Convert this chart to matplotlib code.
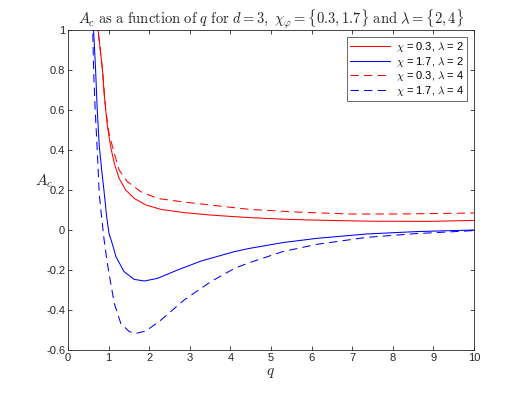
import numpy as np
import matplotlib
matplotlib.use("Agg")
import matplotlib.pyplot as plt
from matplotlib.ticker import FuncFormatter

plt.rcParams["mathtext.fontset"] = "cm"
plt.rcParams["axes.unicode_minus"] = False
plt.rcParams["font.family"] = ["Liberation Sans", "DejaVu Sans"]

# chi = 0.3, lambda = 2 (red solid)
q_r2 = [0.72, 0.74, 0.85, 0.89, 0.93, 0.97, 1.05, 1.14, 1.26, 1.42, 1.63, 1.92,
        2.29, 2.86, 3.5, 4.0, 4.47, 5.2, 5.95, 7.43, 8.9, 10]
a_r2 = [1.05, 1.0, 0.8, 0.68, 0.6, 0.52, 0.417, 0.333, 0.258, 0.2, 0.158, 0.125,
        0.103, 0.087, 0.075, 0.068, 0.062, 0.055, 0.05, 0.044, 0.043, 0.048]

# chi = 1.7, lambda = 2 (blue solid)
q_b2 = [0.62, 0.63, 0.68, 0.72, 0.77, 0.83, 0.89, 0.95, 1.01, 1.1, 1.18, 1.38,
        1.63, 1.88, 2.2, 2.7, 3.28, 4.1, 4.47, 5.29, 6.12, 7.35, 8.58, 10]
a_b2 = [1.05, 1.0, 0.8, 0.6, 0.42, 0.3, 0.19, 0.07, -0.017, -0.075, -0.133, -0.208,
        -0.247, -0.255, -0.242, -0.2, -0.155, -0.108, -0.092, -0.063, -0.042, -0.02,
        -0.008, 0.0]

# chi = 0.3, lambda = 4 (red dashed)
q_r4 = [0.72, 0.74, 0.85, 0.93, 1.01, 1.14, 1.26, 1.46, 1.79, 2.2, 2.78, 3.5,
        4.47, 5.7, 6.94, 8.17, 10]
a_r4 = [1.05, 1.0, 0.8, 0.6, 0.483, 0.383, 0.3, 0.242, 0.192, 0.158, 0.142, 0.125,
        0.103, 0.089, 0.08, 0.08, 0.085]

# chi = 1.7, lambda = 4 (blue dashed)
q_b4 = [0.60, 0.61, 0.63, 0.67, 0.72, 0.77, 0.83, 0.89, 0.95, 1.01, 1.14, 1.3,
        1.51, 1.67, 1.92, 2.29, 2.86, 3.52, 4.1, 4.47, 5.29, 6.12, 7.35, 8.58, 10]
a_b4 = [1.05, 1.0, 0.8, 0.6, 0.4, 0.18, 0.06, -0.05, -0.14, -0.217, -0.367, -0.467,
        -0.508, -0.517, -0.505, -0.45, -0.35, -0.258, -0.192, -0.163, -0.108, -0.072,
        -0.037, -0.018, -0.003]

labels = [r"$\chi$ = 0.3, $\lambda$ = 2", r"$\chi$ = 1.7, $\lambda$ = 2",
          r"$\chi$ = 0.3, $\lambda$ = 4", r"$\chi$ = 1.7, $\lambda$ = 4"]

fig = plt.figure(figsize=(5.25, 3.94), dpi=100)
ax = fig.add_axes([68 / 525, 44 / 394, 406 / 525, 320 / 394])

lw = 0.75
ax.plot(q_r2, a_r2, color="red", lw=lw, label=labels[0])
ax.plot(q_b2, a_b2, color="blue", lw=lw, label=labels[1])
ax.plot(q_r4, a_r4, color="red", lw=lw, ls=(0, (8, 5)), label=labels[2])
ax.plot(q_b4, a_b4, color="blue", lw=lw, ls=(0, (8, 5)), label=labels[3])

ax.set_xlim(0, 10)
ax.set_ylim(-0.6, 1)
ax.set_xticks(np.arange(0, 11, 1))
ax.set_yticks(np.arange(-0.6, 1.01, 0.2))
ax.yaxis.set_major_formatter(FuncFormatter(lambda v, p: "%g" % round(v, 2)))

gray = "#262626"
for s in ax.spines.values():
    s.set_color(gray)
    s.set_linewidth(0.6)
ax.tick_params(direction="in", length=3, width=0.6, top=True, right=True,
               labelsize=8, colors=gray, pad=2)

ax.set_title(r"$A_c\ \mathrm{as\ a\ function\ of}\ q\ \mathrm{for}\ d=3,\ "
             r"\chi_\varphi=\{0.3,1.7\}\ \mathrm{and}\ \lambda=\{2,4\}$",
             fontsize=10.5, color=gray, pad=4)
ax.set_xlabel(r"$q$", fontsize=11, color=gray, labelpad=2)
ax.set_ylabel(r"$A_c$", fontsize=11, color=gray, rotation=0)
ax.yaxis.set_label_coords(-0.058, 0.5)

leg = ax.legend(loc="upper right", fontsize=8, frameon=True, fancybox=False,
                handlelength=3.6, borderpad=0.3, labelspacing=0.05,
                handletextpad=0.5, borderaxespad=0.6)
leg.get_frame().set_edgecolor(gray)
leg.get_frame().set_linewidth(0.6)

fig.savefig("out.png", dpi=100)
